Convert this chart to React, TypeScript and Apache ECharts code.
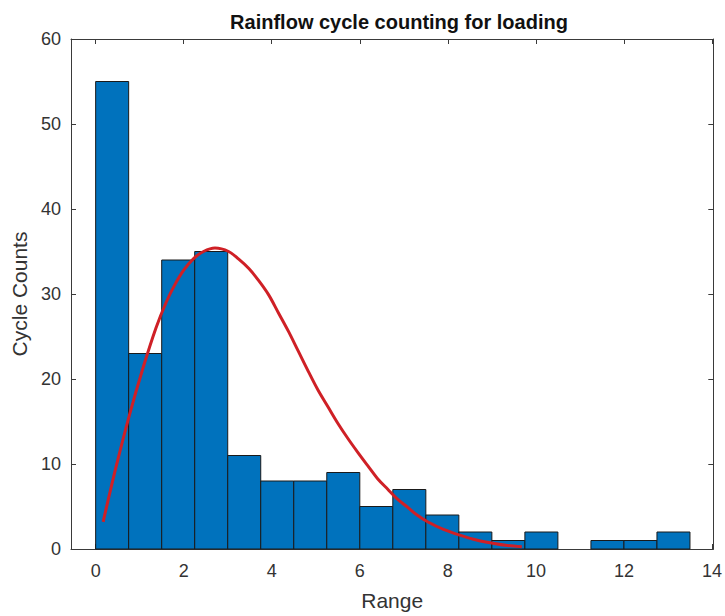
import React, { useEffect, useRef } from "react";
import * as echarts from "echarts";

const binEdges = [0, 0.75, 1.5, 2.25, 3, 3.75, 4.5, 5.25, 6, 6.75, 7.5, 8.25, 9, 9.75, 10.5, 11.25, 12, 12.75, 13.5];
const cycleCounts = [55, 23, 34, 35, 11, 8, 8, 9, 5, 7, 4, 2, 1, 2, 0, 1, 1, 2];

const fitX = [0.17, 0.47, 0.77, 1.07, 1.37, 1.6, 1.8, 2.0, 2.23, 2.45, 2.71, 3.02, 3.25, 3.48, 3.7, 3.93, 4.15, 4.38, 4.6, 4.83, 5.05, 5.28, 5.5, 5.73, 5.95, 6.18, 6.4, 6.64, 6.85, 7.09, 7.3, 7.54, 7.9, 8.29, 8.65, 9.05, 9.35, 9.68];
const fitY = [3.2, 9.8, 15.8, 21.2, 26.0, 29.0, 31.1, 32.8, 34.2, 35.0, 35.4, 35.0, 34.1, 33.0, 31.6, 29.9, 27.8, 25.6, 23.3, 20.9, 18.7, 16.7, 14.8, 13.0, 11.4, 9.8, 8.3, 7.0, 5.9, 4.9, 4.0, 3.2, 2.3, 1.6, 1.05, 0.65, 0.42, 0.27];

const xTicks = [0, 2, 4, 6, 8, 10, 12, 14];
const yTicks = [0, 10, 20, 30, 40, 50, 60];

const AXIS_COLOR = "#3a3a3a";
const FONT = "'Liberation Sans', Arial, sans-serif";

export default function App() {
  const ref = useRef<HTMLDivElement>(null);

  useEffect(() => {
    if (!ref.current) return;
    const chart = echarts.init(ref.current, undefined, { renderer: "svg" });

    const histData = cycleCounts.map((c, i) => [binEdges[i], binEdges[i + 1], c]);
    const fitData = fitX.map((x, i) => [x, fitY[i]]);

    const xCommon = {
      type: "value" as const,
      min: -0.56,
      max: 14.03,
      splitLine: { show: false },
      axisLine: { show: true, onZero: false, lineStyle: { color: AXIS_COLOR, width: 1 } },
      axisTick: { show: true, inside: true, length: 5, customValues: xTicks, lineStyle: { color: AXIS_COLOR } },
    };
    const yCommon = {
      type: "value" as const,
      min: yTicks[0],
      max: yTicks[yTicks.length - 1],
      interval: 10,
      splitLine: { show: false },
      axisLine: { show: true, onZero: false, lineStyle: { color: AXIS_COLOR, width: 1 } },
      axisTick: { show: true, inside: true, length: 5, lineStyle: { color: AXIS_COLOR } },
    };

    chart.setOption({
      animation: false,
      backgroundColor: "#ffffff",
      title: {
        text: "Rainflow cycle counting for loading",
        left: 394,
        textAlign: "center",
        top: 7,
        textStyle: { fontFamily: FONT, fontSize: 20, fontWeight: "bold", color: "#111" },
      },
      grid: { left: 71, right: 7, top: 39, bottom: 64, containLabel: false },
      xAxis: [
        {
          ...xCommon,
          position: "bottom",
          name: "Range",
          nameLocation: "middle",
          nameGap: 41,
          nameTextStyle: { fontFamily: FONT, fontSize: 21, color: "#333" },
          axisLabel: {
            show: true,
            customValues: xTicks,
            margin: 13,
            fontFamily: FONT,
            fontSize: 18,
            color: "#333",
          },
        },
        {
          ...xCommon,
          position: "top",
          axisLabel: { show: false },
        },
      ],
      yAxis: [
        {
          ...yCommon,
          position: "left",
          name: "Cycle Counts",
          nameLocation: "middle",
          nameGap: 38,
          nameTextStyle: { fontFamily: FONT, fontSize: 21, color: "#333" },
          axisLabel: { show: true, margin: 10, fontFamily: FONT, fontSize: 18, color: "#333" },
        },
        {
          ...yCommon,
          position: "right",
          axisLabel: { show: false },
        },
      ],
      series: [
        {
          type: "custom",
          xAxisIndex: 0,
          yAxisIndex: 0,
          data: histData,
          encode: { x: [0, 1], y: 2 },
          renderItem: (params: any, api: any) => {
            const x0 = api.value(0);
            const x1 = api.value(1);
            const c = api.value(2);
            if (!c) return null;
            const p0 = api.coord([x0, c]);
            const p1 = api.coord([x1, 0]);
            return {
              type: "rect",
              shape: { x: p0[0], y: p0[1], width: p1[0] - p0[0], height: p1[1] - p0[1] },
              style: { fill: "#0072BD", stroke: "#1a1a1a", lineWidth: 1 },
            };
          },
          z: 2,
        },
        {
          type: "line",
          xAxisIndex: 0,
          yAxisIndex: 0,
          data: fitData,
          smooth: 0.35,
          showSymbol: false,
          symbol: "none",
          lineStyle: { color: "#cf2026", width: 3 },
          z: 5,
        },
      ],
    });

    return () => {
      chart.dispose();
    };
  }, []);

  return (
    <div
      ref={ref}
      style={{ position: "fixed", left: 0, top: 0, width: 725, height: 616, background: "#fff" }}
    />
  );
}
